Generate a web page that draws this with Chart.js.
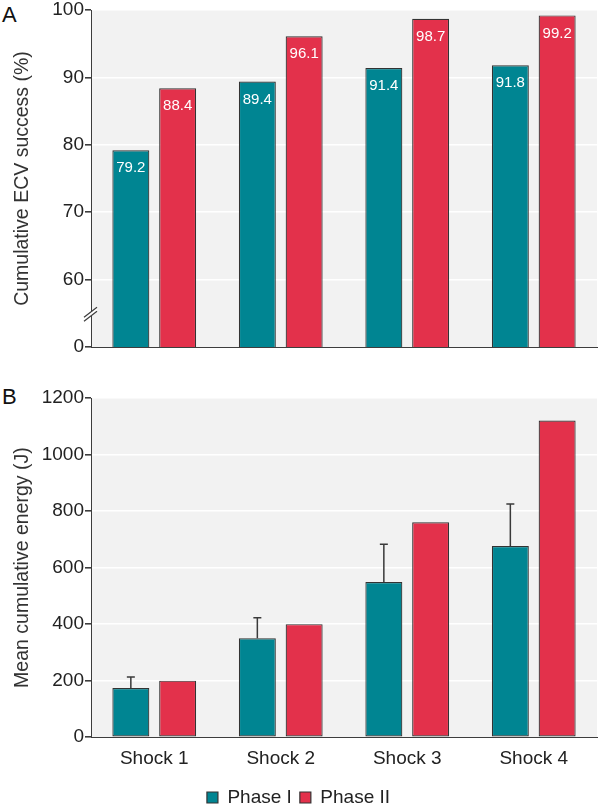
<!DOCTYPE html>
<html>
<head>
<meta charset="utf-8">
<script src="https://cdn.jsdelivr.net/npm/chart.js@4.4.1/dist/chart.umd.min.js"></script>
<style>
  body { margin: 0; background: #fff; width: 600px; height: 805px; position: relative; overflow: hidden; }
  canvas { position: absolute; left: 0; }
  #chartA { top: 0; }
  #chartB { top: 360px; }
  .tag { position: absolute; left: 2px; font: 22px "Liberation Sans", Arial, sans-serif; color: #111; line-height: 1; }
</style>
</head>
<body>
<div class="tag" style="top:4px">A</div>
<div class="tag" style="top:386px">B</div>
<canvas id="chartA" width="600" height="360"></canvas>
<canvas id="chartB" width="600" height="457"></canvas>
<script>
const shocks = ['Shock 1', 'Shock 2', 'Shock 3', 'Shock 4'];
const seriesNames = ['Phase I', 'Phase II'];

// A: cumulative ECV success (%)
const successPhase1 = [79.2, 89.4, 91.4, 91.8];
const successPhase2 = [88.4, 96.1, 98.7, 99.2];
const successFloor = 50;          // broken axis: this value is labelled "0"
const successMax = 100;

// B: mean cumulative energy (J), phase I has an upper error bar
const energyPhase1 = [174, 350, 549, 676];
const energyPhase1Upper = [213, 423, 683, 825];
const energyPhase2 = [200, 400, 760, 1120];

const teal = '#008592';
const red = '#e3314b';
const edge = '#333333';
const axisCol = '#3d3d3d';

Chart.defaults.font.family = '"Liberation Sans", Arial, sans-serif';
Chart.defaults.font.size = 19;
Chart.defaults.color = '#222';

// gris de fundo so na area do grafico
const plotBg = {
  id: 'plotBg',
  beforeDraw(chart) {
    const { ctx, chartArea: a } = chart;
    ctx.save();
    ctx.fillStyle = '#f2f2f2';
    ctx.fillRect(a.left, a.top, a.right - a.left, a.bottom - a.top);
    ctx.restore();
  }
};

const barLabels = {
  id: 'barLabels',
  afterDatasetsDraw(chart) {
    const ctx = chart.ctx;
    ctx.save();
    ctx.fillStyle = '#fff';
    ctx.font = '15px "Liberation Sans", Arial, sans-serif';
    ctx.textAlign = 'center';
    ctx.textBaseline = 'middle';
    chart.data.datasets.forEach((ds, di) => {
      chart.getDatasetMeta(di).data.forEach((bar, i) => {
        ctx.fillText(ds.data[i].toFixed(1), bar.x, bar.y + 18);
      });
    });
    ctx.restore();
  }
};

const axisBreak = {
  id: 'axisBreak',
  afterDraw(chart) {
    const { ctx } = chart;
    const y = chart.scales.y;
    const x0 = chart.chartArea.left;
    const yc = y.getPixelForValue((successFloor + successFloor + 10) / 2) - 1;
    ctx.save();
    ctx.fillStyle = '#fff';
    ctx.beginPath();
    ctx.moveTo(x0 - 7, yc + 5); ctx.lineTo(x0 + 6, yc - 5);
    ctx.lineTo(x0 + 6, yc - 1); ctx.lineTo(x0 - 7, yc + 9);
    ctx.closePath(); ctx.fill();
    ctx.strokeStyle = axisCol;
    ctx.lineWidth = 1.2;
    ctx.beginPath();
    ctx.moveTo(x0 - 7, yc + 5); ctx.lineTo(x0 + 6, yc - 5);
    ctx.moveTo(x0 - 7, yc + 9); ctx.lineTo(x0 + 6, yc - 1);
    ctx.stroke();
    ctx.restore();
  }
};

const errorBars = {
  id: 'errorBars',
  afterDatasetsDraw(chart) {
    const { ctx } = chart;
    const y = chart.scales.y;
    ctx.save();
    ctx.strokeStyle = '#3a3a3a';
    ctx.lineWidth = 1.5;
    chart.getDatasetMeta(0).data.forEach((bar, i) => {
      const top = y.getPixelForValue(energyPhase1Upper[i]);
      ctx.beginPath();
      ctx.moveTo(bar.x, bar.y);
      ctx.lineTo(bar.x, top);
      ctx.moveTo(bar.x - 4, top);
      ctx.lineTo(bar.x + 4, top);
      ctx.stroke();
    });
    ctx.restore();
  }
};

function barSet(label, data, color) {
  return {
    label, data,
    backgroundColor: color,
    borderColor: edge,
    borderWidth: 1.2,
    borderSkipped: false,
    categoryPercentage: 0.74,
    barPercentage: 0.79
  };
}

function yScale(title, min, max, step, fmt) {
  return {
    min, max,
    ticks: { stepSize: step, padding: 1, color: '#222', font: { size: 19, lineHeight: 0.9 }, callback: fmt },
    grid: {
      color: c => (c.tick && c.tick.value === min) ? 'rgba(0,0,0,0)' : '#ffffff',
      lineWidth: 1.6,
      tickColor: axisCol,
      tickLength: 6
    },
    border: { display: true, color: axisCol, width: 1 },
    title: { display: true, text: title, color: '#333', font: { size: 19.5 }, padding: { top: 11, bottom: 0 } },
    afterFit(s) { s.width = 91; }
  };
}

new Chart(document.getElementById('chartA'), {
  type: 'bar',
  data: {
    labels: shocks,
    datasets: [
      barSet(seriesNames[0], successPhase1, teal),
      barSet(seriesNames[1], successPhase2, red)
    ]
  },
  options: {
    responsive: false,
    animation: false,
    layout: { padding: { left: 0, right: 3, top: 10, bottom: 13 } },
    plugins: { legend: { display: false }, tooltip: { enabled: false } },
    scales: {
      x: {
        ticks: { display: false },
        grid: { display: false, drawTicks: false },
        border: { display: true, color: axisCol, width: 1 },
        afterFit(s) { s.height = 0; }
      },
      y: yScale('Cumulative ECV success (%)', successFloor, successMax, 10,
        v => v === successFloor ? '0' : v)
    }
  },
  plugins: [plotBg, barLabels, axisBreak]
});

new Chart(document.getElementById('chartB'), {
  type: 'bar',
  data: {
    labels: shocks,
    datasets: [
      barSet(seriesNames[0], energyPhase1, teal),
      barSet(seriesNames[1], energyPhase2, red)
    ]
  },
  options: {
    responsive: false,
    animation: false,
    layout: { padding: { left: 0, right: 3, top: 38, bottom: 0 } },
    plugins: {
      legend: {
        position: 'bottom',
        labels: { boxWidth: 11, boxHeight: 11, padding: 8, font: { size: 19 }, color: '#222' }
      },
      tooltip: { enabled: false }
    },
    scales: {
      x: {
        ticks: { padding: 10, color: '#222' },
        grid: { display: false, drawTicks: false },
        border: { display: true, color: axisCol, width: 1 }
      },
      y: yScale('Mean cumulative energy (J)', 0, 1200, 200, v => v)
    }
  },
  plugins: [plotBg, errorBars]
});
</script>
</body>
</html>
